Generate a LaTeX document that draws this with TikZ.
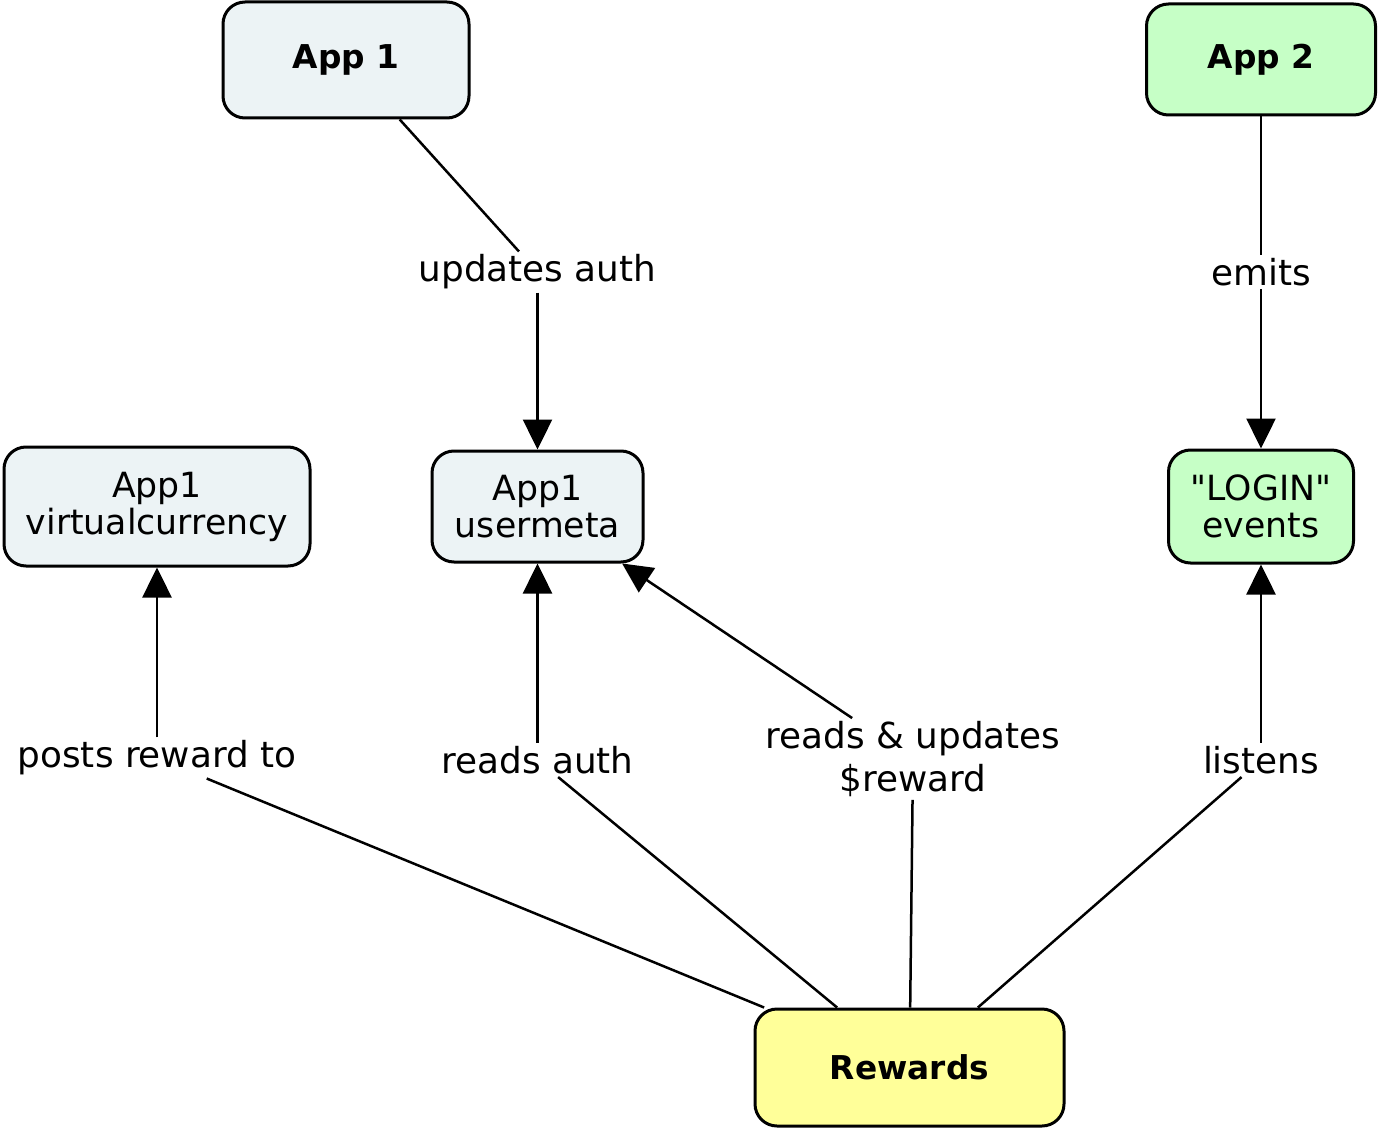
\documentclass[tikz,border=0pt]{standalone}
\usepackage{fontspec}
\setmainfont{DejaVu Sans}[Ligatures=TeXOff]
\usetikzlibrary{arrows.meta}
\definecolor{appblue}{HTML}{ECF3F5}
\definecolor{appgreen}{HTML}{C6FFC6}
\definecolor{rewyellow}{HTML}{FFFF99}
\tikzset{
  box/.style={draw, line width=3pt, rounded corners=22pt, inner sep=0pt, align=center,
    font=\fontsize{34.7}{37}\selectfont},
  boldbox/.style={box, font=\fontsize{32.8}{37}\selectfont\bfseries},
  lab/.style={fill=white, inner sep=3pt, align=center, font=\fontsize{35.8}{43}\selectfont},
  conn/.style={line width=2.5pt},
  arr/.style={conn, -{Triangle[width=29pt,length=30pt]}}
}
\begin{document}
\begin{tikzpicture}[x=1pt,y=-1pt]
\useasboundingbox (0,0) rectangle (1381,1134);
% boxes
\node[boldbox, fill=appblue, minimum width=246pt, minimum height=116pt] (app1) at (346,60) {App 1};
\node[boldbox, fill=appgreen, minimum width=229pt, minimum height=111pt] (app2) at (1261,59.5) {App 2};
\node[box, fill=appblue, minimum width=306pt, minimum height=119pt] (vc) at (157,506.5) {App1\\virtualcurrency};
\node[box, fill=appblue, minimum width=211pt, minimum height=111pt] (um) at (537.5,506.5) {App1\\usermeta};
\node[box, fill=appgreen, minimum width=185pt, minimum height=113pt] (login) at (1261,506.5) {"LOGIN"\\events};
\node[boldbox, fill=rewyellow, minimum width=309pt, minimum height=117pt] (rew) at (909.5,1067.5) {Rewards};
% labels
\node[lab] (lupd) at (537.5,272) {updates auth};
\node[lab] (lemit) at (1261,272) {emits};
\node[lab] (lpost) at (157,758) {posts reward to};
\node[lab] (lread) at (537.5,760) {reads auth};
\node[lab] (lru) at (913,759) {reads \& updates\\\$reward};
\node[lab] (llist) at (1261,760) {listens};
% connectors
\draw[conn] (app1) -- (lupd);
\draw[arr] (lupd) -- (um);
\draw[conn] (app2) -- (lemit);
\draw[arr] (lemit) -- (login);
\draw[conn] (rew) -- (lpost);
\draw[arr] (lpost) -- (vc);
\draw[conn] (rew) -- (lread);
\draw[arr] (lread) -- (um);
\draw[conn] (rew) -- (lru);
\draw[arr] (lru) -- (um);
\draw[conn] (rew) -- (llist);
\draw[arr] (llist) -- (login);
\end{tikzpicture}
\end{document}
